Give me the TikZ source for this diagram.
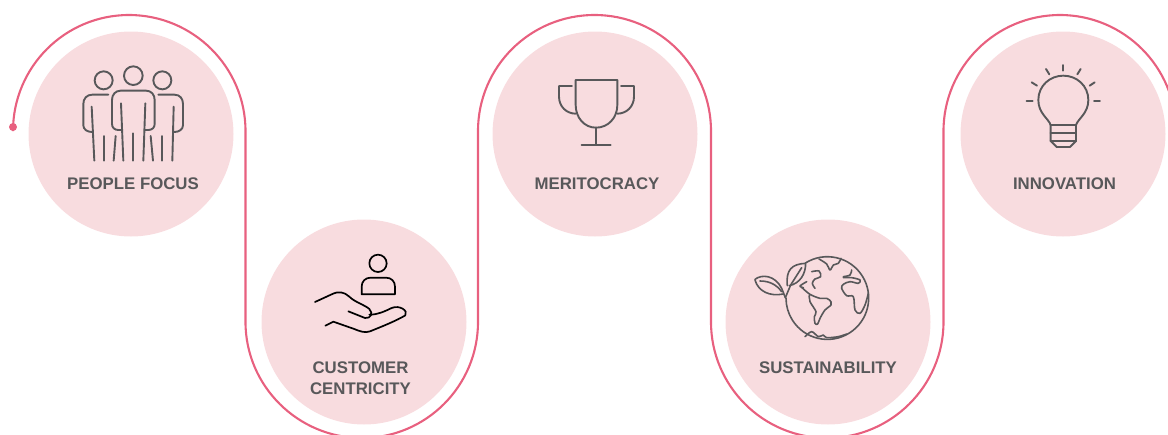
\documentclass[tikz,border=0pt]{standalone}
\usepackage{fontspec}
\setmainfont{Liberation Sans}
\definecolor{pinkfill}{HTML}{F8DCDF}
\definecolor{rosepath}{HTML}{E8607F}
\definecolor{icongray}{HTML}{58585A}
\tikzset{
  disc/.style={circle,fill=pinkfill,minimum size=205pt,inner sep=0pt},
  lab/.style={font=\fontsize{16.8}{21}\selectfont\bfseries,text=icongray,align=center},
  route/.style={draw=rosepath,line width=2.1pt},
  icon/.style={draw=icongray,line width=1.9pt,line cap=round,line join=round},
  iconb/.style={draw=black,line width=1.7pt,line cap=round,line join=round},
  zoomed/.style={x=0.33333pt,y=-0.33333pt},
  curvy/.style={smooth,tension=0.55}
}
\begin{document}
\begin{tikzpicture}[x=1pt,y=-1pt]
\useasboundingbox (0,0) rectangle (1168,434);
\clip (0,0) rectangle (1168,434);
\node[disc] (d1) at (131,134) {};
\node[disc] (d2) at (364,322) {};
\node[disc] (d3) at (595,134) {};
\node[disc] (d4) at (828,322) {};
\node[disc] (d5) at (1063,134) {};
\node[lab] (t1) at (133,183.6) {PEOPLE FOCUS};
\node[lab] (t2) at (360.5,378) {CUSTOMER\\CENTRICITY};
\node[lab] (t3) at (597,183.6) {MERITOCRACY};
\node[lab] (t4) at (828,367.6) {SUSTAINABILITY};
\node[lab] (t5) at (1064.5,183.6) {INNOVATION};
% route
\fill[rosepath] (13,127) circle (4pt);
\draw[route] (13,127) -- (13,131)
  .. controls (13,67) and (65,15) .. (129,15)
  .. controls (193,15) and (245.5,67) .. (245.5,131)
  -- (245.5,322)
  .. controls (245.5,386) and (298,438) .. (362,438)
  .. controls (426,438) and (478,386) .. (478,322)
  -- (478,131)
  .. controls (478,67) and (530,15) .. (594.5,15)
  .. controls (659,15) and (711,67) .. (711,131)
  -- (711,322)
  .. controls (711,386) and (763,438) .. (827,438)
  .. controls (891,438) and (943.5,386) .. (943.5,322)
  -- (943.5,131)
  .. controls (943.5,67) and (996,15) .. (1060,15)
  .. controls (1124,15) and (1176,67) .. (1176,131);
% people
\begin{scope}[shift={(0,0)},zoomed,icon]
\draw (400,227) circle (28);
\draw (311,241) circle (27);
\draw (487,241) circle (27);
\draw (363,390) -- (355,390) .. controls (343,390) and (336,382) .. (336,372) -- (336,300)
  .. controls (336,284) and (346,272) .. (362,272) -- (438,272)
  .. controls (454,272) and (464,284) .. (464,300) -- (464,372)
  .. controls (464,382) and (457,390) .. (445,390) -- (436,390);
\draw (363,310) -- (370,482);
\draw (436,310) -- (430,482);
\draw (399,400) -- (399,482);
\draw (325,284) -- (277,284) .. controls (260,284) and (250,296) .. (250,312) -- (250,376)
  .. controls (250,388) and (262,396) .. (276,396);
\draw (275,320) -- (283,482);
\draw (311,408) -- (311,482);
\draw (347,408) -- (341,482);
\draw (475,284) -- (523,284) .. controls (540,284) and (549,296) .. (549,312) -- (549,376)
  .. controls (549,388) and (537,396) .. (523,396);
\draw (521,320) -- (517,482);
\draw (487,408) -- (487,482);
\draw (452,408) -- (459,482);
\end{scope}
% hand
\begin{scope}[shift={(290,240)},zoomed,iconb]
\draw (264,70) circle (26);
\draw (215,163) -- (215,140) .. controls (215,124) and (226,113) .. (242,113) -- (288,113)
  .. controls (304,113) and (315,124) .. (315,140) -- (315,163) -- cycle;
\draw (75,186) -- (125,163) .. controls (145,153) and (162,155) .. (178,170)
  .. controls (195,187) and (225,195) .. (238,207)
  .. controls (250,220) and (243,236) .. (225,234) -- (175,214);
\draw (238,224) .. controls (262,224) and (280,216) .. (305,204)
  .. controls (328,194) and (356,212) .. (346,226)
  .. controls (320,242) and (270,262) .. (240,274)
  .. controls (225,280) and (210,274) .. (190,266) -- (130,245) -- (106,257);
\end{scope}
% trophy
\begin{scope}[shift={(540,65)},zoomed,icon]
\draw (107,45) -- (232,45) -- (232,120) .. controls (232,158) and (205,188) .. (168,188)
  .. controls (133,188) and (107,158) .. (107,120) -- cycle;
\draw (168,188) -- (168,240);
\draw (125,240) -- (212,240);
\draw (96,63) -- (57,63) -- (57,95) .. controls (57,125) and (80,146) .. (107,146);
\draw (243,63) -- (282,63) -- (282,95) .. controls (282,125) and (259,146) .. (232,146);
\end{scope}
% globe
\begin{scope}[shift={(745,250)},zoomed,icon,line width=1.6pt]
\draw (181.3,39) arc (-122:180:124);
% leaves
\draw (127,107) .. controls (122,60) and (140,42) .. (182,40)
  .. controls (182,72) and (165,100) .. (133,107);
\draw (121,143) -- (137,105) -- (170,53);
\draw (30,88) .. controls (50,72) and (90,75) .. (110,115) -- (121,143);
\draw (30,90) .. controls (40,125) and (75,140) .. (115,132);
\draw (45,93) .. controls (75,93) and (95,105) .. (110,125);
% continents
\draw plot[curvy] coordinates {(222,27) (245,42) (255,60) (265,45) (280,40) (288,25)};
\draw plot[curvy] coordinates {(200,65) (222,63) (227,80) (210,87) (202,100) (210,115)};
\draw plot[curvy] coordinates {(170,112) (195,133) (225,145) (245,145) (258,155) (258,165)
  (240,180) (225,205) (218,222) (210,220) (208,200) (213,185) (195,155) (193,135)};
\draw plot[curvy] coordinates {(185,95) (165,108) (175,113)};
\draw plot[curvy] coordinates {(295,80) (315,75) (320,60)};
\draw plot[curvy] coordinates {(295,83) (320,83) (345,90) (340,100) (315,95) (295,103) (290,115)
  (305,137) (325,140) (330,180) (345,190) (360,165) (370,130)};
\draw plot[curvy] coordinates {(180,260) (200,245) (220,260) (235,255) (245,263) (280,260) (305,252)};
\end{scope}
% bulb
\begin{scope}[shift={(1015,55)},zoomed,icon]
\draw (107,210) .. controls (100,190) and (70,175) .. (70,135)
  .. controls (70,92) and (105,62) .. (145,62)
  .. controls (185,62) and (220,92) .. (220,135)
  .. controls (220,175) and (190,190) .. (183,210);
\draw (107,210) -- (183,210) -- (183,258) -- (165,276) -- (125,276) -- (107,258) -- cycle;
\draw (107,233) -- (183,233);
\draw (107,258) -- (183,258);
\draw (145,30) -- (145,47);
\draw (93,42) -- (103,58);
\draw (197,42) -- (187,58);
\draw (50,82) -- (66,92);
\draw (239,82) -- (224,92);
\draw (35,138) -- (53,138);
\draw (237,138) -- (255,138);
\end{scope}
\end{tikzpicture}
\end{document}
